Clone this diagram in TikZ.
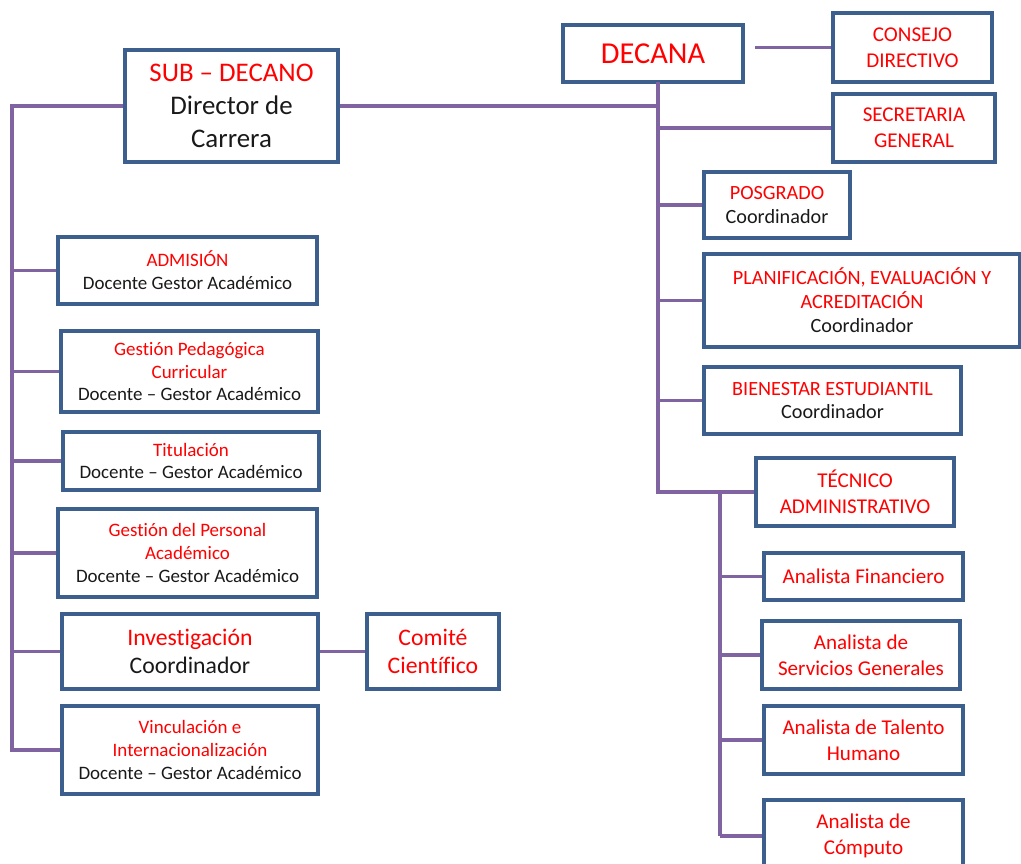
\documentclass[tikz,border=0pt]{standalone}
\usepackage{fontspec}
\setmainfont{Carlito}[Ligatures={NoCommon}]
\definecolor{boxblue}{RGB}{60,95,142}
\definecolor{linepurple}{RGB}{128,100,162}
\definecolor{titlered}{RGB}{255,0,0}
\newcommand{\rt}[1]{\textcolor{titlered}{#1}}

\begin{document}
\begin{tikzpicture}[x=0.02cm, y=-0.02cm]
\tikzset{ unit/.style={draw=boxblue, line width=2pt, align=center, inner sep=0pt, text=black!90},
  link/.style={draw=linepurple, line width=2pt},
  fsmall/.style={font=\fontsize{10.8}{13}\selectfont},
  fmid/.style={font=\fontsize{11.5}{13.6}\selectfont},
  fbox/.style={font=\fontsize{12}{15}\selectfont},
  fbig/.style={font=\fontsize{13.5}{16.4}\selectfont},
  fsub/.style={font=\fontsize{15.3}{18.7}\selectfont},
}
\useasboundingbox (0,0) rectangle (1021,864);

%\draw [lightgray, dashed] (0,0) grid[step=50] (1021,864);

% top level
\node [unit, text=titlered, minimum width=3.6cm, minimum height=1.14cm, font=\fontsize{17.3}{20}\selectfont] (dec) at (653,53.5) {DECANA};
\node [unit, fbox, text=titlered, minimum width=3.18cm, minimum height=1.38cm] (cons) at (912.5,47.5) {CONSEJO\\DIRECTIVO};
\node [unit, fbox, text=titlered, minimum width=3.24cm, minimum height=1.36cm] (secr) at (914,128) {SECRETARIA\\GENERAL};
\node [unit, fsub, minimum width=4.26cm, minimum height=2.24cm] (sub) at (231.5,106) {\rt{SUB – DECANO}\\Director de\\Carrera};

% right column
\node [unit, fmid, minimum width=2.92cm, minimum height=1.32cm] (posg) at (777,205) {\rt{POSGRADO}\\Coordinador};
\node [unit, fmid, minimum width=6.32cm, minimum height=1.86cm] (plan) at (862,300.5) {\rt{PLANIFICACIÓN, EVALUACIÓN Y}\\\rt{ACREDITACIÓN}\\Coordinador};
\node [unit, fmid, minimum width=5.14cm, minimum height=1.34cm] (bien) at (832.5,400.5) {\rt{BIENESTAR ESTUDIANTIL}\\Coordinador};
\node [unit, fbox, text=titlered, minimum width=3.96cm, minimum height=1.36cm] (tec) at (855,492) {TÉCNICO\\ADMINISTRATIVO};
\node [unit, fbox, text=titlered, minimum width=3.98cm, minimum height=0.94cm] (fin) at (863.5,576.5) {Analista Financiero};
\node [unit, fbox, text=titlered, minimum width=3.96cm, minimum height=1.36cm] (serv) at (861,655) {Analista de\\Servicios Generales};
\node [unit, fbox, text=titlered, minimum width=3.98cm, minimum height=1.36cm] (tal) at (863.5,740) {Analista de Talento\\Humano};
\node [unit, fbox, text=titlered, minimum width=3.98cm, minimum height=1.44cm] (comp) at (863.5,836) {Analista de\\Cómputo};

% left column
\node [unit, fsmall, minimum width=5.18cm, minimum height=1.34cm] (adm) at (187.5,270.5) {\rt{ADMISIÓN}\\Docente Gestor Académico};
\node [unit, fsmall, minimum width=5.14cm, minimum height=1.62cm] (gped) at (189.5,371.5) {\rt{Gestión Pedagógica}\\\rt{Curricular}\\Docente – Gestor Académico};
\node [unit, fsmall, minimum width=5.12cm, minimum height=1.16cm] (tit) at (191,461) {\rt{Titulación}\\Docente – Gestor Académico};
\node [unit, fsmall, minimum width=5.18cm, minimum height=1.76cm] (gper) at (187.5,553) {\rt{Gestión del Personal}\\\rt{Académico}\\Docente – Gestor Académico};
\node [unit, fbig, minimum width=5.12cm, minimum height=1.5cm] (inv) at (190,651.5) {\rt{Investigación}\\Coordinador};
\node [unit, fbig, text=titlered, minimum width=2.64cm, minimum height=1.5cm] (com) at (433,651.5) {Comité\\Científico};
\node [unit, fsmall, minimum width=5.12cm, minimum height=1.76cm] (vinc) at (190,750) {\rt{Vinculación e}\\\rt{Internacionalización}\\Docente – Gestor Académico};

\coordinate (ltop) at (12,104);
\coordinate (dtop) at (658,82);
\coordinate (ttop) at (720,492);

\draw [link] (sub.west) -- (sub.west -| ltop) -- (vinc.west -| ltop) -- (vinc.west);
\foreach \n in {adm,gped,tit,gper,inv}
  \draw [link] (\n.west) -- (\n.west -| ltop);
\draw [link] (inv.east) -- (com.west);

\draw [link] (sub.east) -- (sub.east -| dtop);
\draw [link, shorten <=6pt] (cons.west -| dec.east) -- (cons.west);
\draw [link] (dtop) -- (tec.west -| dtop) -- (tec.west);
\foreach \n in {secr,posg,plan,bien}
  \draw [link] (\n.west) -- (\n.west -| dtop);

\draw [link] (ttop) -- (comp.west -| ttop);
\foreach \n in {fin,serv,tal,comp}
  \draw [link] (\n.west) -- (\n.west -| ttop);

\end{tikzpicture}
\end{document}
